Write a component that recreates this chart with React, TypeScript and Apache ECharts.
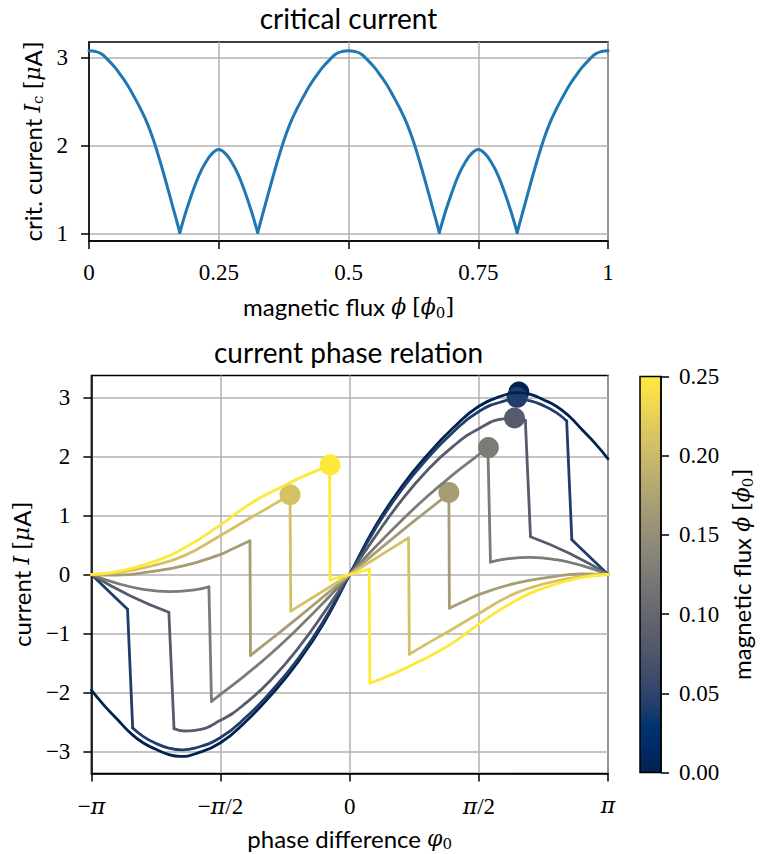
import React, { useEffect, useRef } from 'react';
import * as echarts from 'echarts';

// ---------- top panel: critical current vs magnetic flux (pieces between the cusps) ----------
const FLUX_PIECES = [
  [0, 0.0125, 0.025, 0.0375, 0.05, 0.0625, 0.075, 0.0875, 0.1, 0.1125, 0.125, 0.1375, 0.15, 0.1625, 0.175],
  [0.175, 0.1875, 0.2, 0.2125, 0.225, 0.2375, 0.25, 0.2625, 0.275, 0.2875, 0.3, 0.3125, 0.325],
  [0.325, 0.3375, 0.35, 0.3625, 0.375, 0.3875, 0.4, 0.4125, 0.425, 0.4375, 0.45, 0.4625, 0.475, 0.4875, 0.5,
   0.5125, 0.525, 0.5375, 0.55, 0.5625, 0.575, 0.5875, 0.6, 0.6125, 0.625, 0.6375, 0.65, 0.6625, 0.675],
  [0.675, 0.6875, 0.7, 0.7125, 0.725, 0.7375, 0.75, 0.7625, 0.775, 0.7875, 0.8, 0.8125, 0.825],
  [0.825, 0.8375, 0.85, 0.8625, 0.875, 0.8875, 0.9, 0.9125, 0.925, 0.9375, 0.95, 0.9625, 0.975, 0.9875, 1],
];
const CRIT_CURRENT_PIECES = [
  [3.08, 3.07, 3.04, 2.97, 2.89, 2.79, 2.68, 2.55, 2.41, 2.25, 2.05, 1.81, 1.55, 1.28, 1.01],
  [1.01, 1.26, 1.48, 1.67, 1.81, 1.91, 1.955, 1.91, 1.81, 1.67, 1.48, 1.26, 1.01],
  [1.01, 1.28, 1.55, 1.81, 2.05, 2.25, 2.41, 2.55, 2.68, 2.79, 2.89, 2.97, 3.04, 3.07, 3.08,
   3.07, 3.04, 2.97, 2.89, 2.79, 2.68, 2.55, 2.41, 2.25, 2.05, 1.81, 1.55, 1.28, 1.01],
  [1.01, 1.26, 1.48, 1.67, 1.81, 1.91, 1.955, 1.91, 1.81, 1.67, 1.48, 1.26, 1.01],
  [1.01, 1.28, 1.55, 1.81, 2.05, 2.25, 2.41, 2.55, 2.68, 2.79, 2.89, 2.97, 3.04, 3.07, 3.08],
];

// ---------- bottom panel: current phase relation ----------
// phase difference in units of pi, current in uA; each curve is a list of smooth pieces,
// consecutive pieces are joined by the (near-vertical) jumps
const CPR_FLUX_0 = [[
  [-1, -1.96], [-0.95, -2.22], [-0.9, -2.45], [-0.85, -2.68], [-0.8, -2.85], [-0.75, -2.96], [-0.7, -3.05], [-0.655, -3.08],
  [-0.6, -3.04], [-0.5, -2.85], [-0.4, -2.48], [-0.3, -2.02], [-0.2, -1.48], [-0.1, -0.82], [0, 0],
  [0.1, 0.82], [0.2, 1.48], [0.3, 2.02], [0.4, 2.48], [0.5, 2.85], [0.6, 3.04], [0.655, 3.08], [0.7, 3.05],
  [0.75, 2.96], [0.8, 2.85], [0.85, 2.68], [0.9, 2.45], [0.95, 2.22], [1, 1.96],
]];
const CPR_FLUX_1 = [
  [[-1, 0], [-0.86, -0.59]],
  [[-0.84, -2.6], [-0.8, -2.74], [-0.75, -2.86], [-0.7, -2.94], [-0.648, -2.97], [-0.6, -2.94], [-0.5, -2.76], [-0.4, -2.41],
   [-0.3, -1.96], [-0.2, -1.43], [-0.1, -0.78], [0, 0], [0.1, 0.78], [0.2, 1.43], [0.3, 1.96], [0.4, 2.41], [0.5, 2.76],
   [0.6, 2.94], [0.648, 2.97], [0.7, 2.94], [0.75, 2.86], [0.8, 2.74], [0.84, 2.6]],
  [[0.86, 0.59], [1, 0]],
];
const CPR_FLUX_2 = [
  [[-1, 0], [-0.85, -0.36], [-0.7, -0.64]],
  [[-0.68, -2.61], [-0.64, -2.65], [-0.6, -2.64], [-0.5, -2.47], [-0.4, -2.17], [-0.3, -1.76], [-0.2, -1.25], [-0.1, -0.65],
   [0, 0], [0.1, 0.65], [0.2, 1.25], [0.3, 1.76], [0.4, 2.17], [0.5, 2.47], [0.6, 2.64], [0.64, 2.65], [0.68, 2.61]],
  [[0.7, 0.64], [0.85, 0.36], [1, 0]],
];
const CPR_FLUX_3 = [
  [[-1, 0], [-0.9, -0.15], [-0.8, -0.25], [-0.7, -0.29], [-0.6, -0.26], [-0.545, -0.21]],
  [[-0.535, -2.15], [-0.5, -2.03], [-0.4, -1.69], [-0.3, -1.32], [-0.2, -0.91], [-0.1, -0.47], [0, 0],
   [0.1, 0.47], [0.2, 0.91], [0.3, 1.32], [0.4, 1.69], [0.5, 2.03], [0.535, 2.15]],
  [[0.545, 0.21], [0.6, 0.26], [0.7, 0.29], [0.8, 0.25], [0.9, 0.15], [1, 0]],
];
const CPR_FLUX_4 = [
  [[-1, 0], [-0.9, -0.01], [-0.77, 0.05], [-0.64, 0.15], [-0.513, 0.32], [-0.45, 0.44], [-0.386, 0.57]],
  [[-0.384, -1.37], [-0.3, -1.08], [-0.2, -0.73], [-0.1, -0.37], [0, 0], [0.1, 0.37], [0.2, 0.73], [0.3, 1.08], [0.384, 1.37]],
  [[0.386, -0.57], [0.45, -0.44], [0.513, -0.32], [0.64, -0.15], [0.77, -0.05], [0.9, 0.01], [1, 0]],
];
const CPR_FLUX_5 = [
  [[-1, 0], [-0.9, 0.03], [-0.77, 0.14], [-0.64, 0.32], [-0.5, 0.66], [-0.384, 0.96], [-0.3, 1.17], [-0.231, 1.35]],
  [[-0.228, -0.62], [0, 0], [0.228, 0.62]],
  [[0.231, -1.35], [0.3, -1.17], [0.384, -0.96], [0.5, -0.66], [0.64, -0.32], [0.77, -0.14], [0.9, -0.03], [1, 0]],
];
const CPR_FLUX_6 = [
  [[-1, 0], [-0.9, 0.05], [-0.77, 0.2], [-0.64, 0.45], [-0.5, 0.84], [-0.384, 1.2], [-0.256, 1.5], [-0.16, 1.7], [-0.078, 1.84]],
  [[-0.076, -0.09], [0, 0], [0.076, 0.09]],
  [[0.078, -1.84], [0.16, -1.7], [0.256, -1.5], [0.384, -1.2], [0.5, -0.84], [0.64, -0.45], [0.77, -0.2], [0.9, -0.05], [1, 0]],
];
const CPR_CURVES = [CPR_FLUX_0, CPR_FLUX_1, CPR_FLUX_2, CPR_FLUX_3, CPR_FLUX_4, CPR_FLUX_5, CPR_FLUX_6];

// critical points (maximum current of each curve)
const CRIT_PHASE = [0.655, 0.648, 0.638, 0.537, 0.384, -0.231, -0.076];
const CRIT_VALUE = [3.09, 3.0, 2.65, 2.15, 1.39, 1.35, 1.856];

// magnetic flux of each curve (phi_0 units) and its cividis colour
const CURVE_FLUX = [0, 1 / 24, 2 / 24, 3 / 24, 4 / 24, 5 / 24, 6 / 24];
const CURVE_COLORS = ['#00224e', '#203d6c', '#565c6c', '#7c7b76', '#a69c75', '#d4c164', '#fee838'];

const CIVIDIS = [
  '#00224e', '#002a66', '#00346e', '#273f6c', '#3c4a6b', '#4c556b', '#5b5f6d', '#686a70', '#757575',
  '#838178', '#928c78', '#a19876', '#b0a572', '#c0b16d', '#d1bf66', '#e1cc5c', '#f3db4f', '#fee838',
];

const X_TOP_TICKS = [0, 0.25, 0.5, 0.75, 1];
const Y_TOP_TICKS = [1, 2, 3];
const X_BOT_TICKS = [-1, -0.5, 0, 0.5, 1];
const X_BOT_LABELS = ['\u2212{i|\u03c0}', '\u2212{i|\u03c0}/2', '0', '{i|\u03c0}/2', '{i|\u03c0}'];
const Y_BOT_TICKS = [-3, -2, -1, 0, 1, 2, 3];
const CBAR_TICKS = [0, 0.05, 0.1, 0.15, 0.2, 0.25];

const SANS = 'Lato';
const SERIF = 'Liberation Serif';
const MATH = 'DejaVu Serif';

function jumpData(pieces: number[][][]) {
  const out: any[] = [];
  for (let i = 1; i < pieces.length; i++) {
    const prev = pieces[i - 1];
    if (out.length) out.push([null, null]);
    out.push(prev[prev.length - 1]);
    out.push(pieces[i][0]);
  }
  return out;
}

const LH = 27;
const nameRich = {
  m: { fontFamily: MATH, fontStyle: 'italic', fontSize: 22, color: '#000', lineHeight: LH },
  s: { fontFamily: MATH, fontSize: 15, color: '#000', verticalAlign: 'bottom', lineHeight: 15 },
  b: { fontFamily: MATH, fontSize: 22, color: '#000', lineHeight: LH },
};
const nameStyle = { fontFamily: SANS, fontSize: 24, color: '#000', lineHeight: LH, rich: nameRich };

const tickLabel = { color: '#000', fontFamily: SERIF, fontSize: 23 };
const axisLineStyle = { show: true, onZero: false, lineStyle: { color: '#000', width: 1.5 } };
const tickStyle = { show: true, inside: false, length: 8, lineStyle: { color: '#000', width: 1.5 } };
const gridLine = { show: true, lineStyle: { color: '#b0b0b0', width: 1.5 } };

const minusFmt = (v: number) => (v < 0 ? '\u2212' + String(-v) : String(v));

export default function App() {
  const ref = useRef<HTMLDivElement>(null);
  useEffect(() => {
    document.body.style.margin = '0';
    const chart = echarts.init(ref.current!, null, { renderer: 'svg' });
    const series: any[] = [];
    FLUX_PIECES.forEach((xs, p) => {
      series.push({
        type: 'line', xAxisIndex: 0, yAxisIndex: 0, showSymbol: false, silent: true, smooth: 0.4,
        data: xs.map((f, i) => [f, CRIT_CURRENT_PIECES[p][i]]),
        lineStyle: { color: '#1f77b4', width: 3, cap: 'round', join: 'round' },
      });
    });
    CPR_CURVES.forEach((pieces, k) => {
      const ls = { color: CURVE_COLORS[k], width: 2.8, cap: 'round', join: 'round' };
      pieces.forEach((piece) => {
        series.push({
          type: 'line', xAxisIndex: 1, yAxisIndex: 1, showSymbol: false, silent: true,
          name: 'flux ' + CURVE_FLUX[k].toFixed(3),
          smooth: piece.length > 2 ? 0.5 : false,
          data: piece,
          lineStyle: ls,
        });
      });
      if (pieces.length > 1) {
        series.push({
          type: 'line', xAxisIndex: 1, yAxisIndex: 1, showSymbol: false, silent: true, connectNulls: false,
          data: jumpData(pieces), lineStyle: ls,
        });
      }
      series.push({
        type: 'scatter', xAxisIndex: 1, yAxisIndex: 1, silent: true, symbolSize: 21,
        data: [[CRIT_PHASE[k], CRIT_VALUE[k]]],
        itemStyle: { color: CURVE_COLORS[k], opacity: 1 },
      });
    });

    const option: any = {
      animation: false,
      backgroundColor: '#fff',
      grid: [
        { left: 89, top: 42, width: 519, height: 199, show: true, borderColor: '#000', borderWidth: 1.5, backgroundColor: 'transparent' },
        { left: 89, top: 375.5, width: 519, height: 398, show: true, borderColor: '#000', borderWidth: 1.5, backgroundColor: 'transparent' },
        {
          left: 640, top: 376.5, width: 21, height: 396, show: true, borderColor: '#000', borderWidth: 1.5,
          backgroundColor: new echarts.graphic.LinearGradient(0, 1, 0, 0,
            CIVIDIS.map((c, i) => ({ offset: i / (CIVIDIS.length - 1), color: c }))),
        },
      ],
      xAxis: [
        {
          type: 'value', gridIndex: 0, min: 0, max: 1, interval: 0.25,
          axisLine: axisLineStyle, axisTick: tickStyle, splitLine: gridLine,
          axisLabel: { ...tickLabel, margin: 20, customValues: X_TOP_TICKS },
          name: 'magnetic flux {m|\u03d5} {b|[}{m|\u03d5}{s|0}{b|]}', nameLocation: 'middle', nameGap: 52,
          nameTextStyle: nameStyle,
        },
        {
          type: 'value', gridIndex: 1, min: -1, max: 1, interval: 0.5,
          axisLine: axisLineStyle, axisTick: tickStyle, splitLine: gridLine,
          axisLabel: {
            ...tickLabel, margin: 21,
            formatter: (v: number) => X_BOT_LABELS[X_BOT_TICKS.indexOf(v)] ?? '',
            rich: { i: { fontFamily: MATH, fontStyle: 'italic', fontSize: 22, color: '#000' } },
          },
          name: 'phase difference {m|\u03c6}{s|0}', nameLocation: 'middle', nameGap: 51,
          nameTextStyle: nameStyle,
        },
        { type: 'value', gridIndex: 2, min: 0, max: 1, show: false },
      ],
      yAxis: [
        {
          type: 'value', gridIndex: 0, min: 0.913, max: 3.179,
          axisLine: axisLineStyle,
          axisTick: { ...tickStyle, customValues: Y_TOP_TICKS },
          splitLine: gridLine,
          axisLabel: { ...tickLabel, margin: 21, customValues: Y_TOP_TICKS },
          name: 'crit. current {m|I}{s|c} {b|[}{m|\u03bc}A{b|]}', nameLocation: 'middle', nameGap: 37, nameRotate: 90,
          nameTextStyle: nameStyle,
        },
        {
          type: 'value', gridIndex: 1, min: -3.37, max: 3.37,
          axisLine: axisLineStyle,
          axisTick: { ...tickStyle, customValues: Y_BOT_TICKS },
          splitLine: gridLine,
          axisLabel: { ...tickLabel, margin: 21, customValues: Y_BOT_TICKS, formatter: minusFmt },
          name: 'current {m|I} {b|[}{m|\u03bc}A{b|]}', nameLocation: 'middle', nameGap: 50, nameRotate: 90,
          nameTextStyle: nameStyle,
        },
        {
          type: 'value', gridIndex: 2, position: 'right', min: 0, max: 0.25, interval: 0.05,
          axisLine: axisLineStyle,
          axisTick: { ...tickStyle, customValues: CBAR_TICKS },
          splitLine: { show: false },
          axisLabel: { ...tickLabel, margin: 18, customValues: CBAR_TICKS, formatter: (v: number) => v.toFixed(2) },
          name: 'magnetic flux {m|\u03d5} {b|[}{m|\u03d5}{s|0}{b|]}', nameLocation: 'middle', nameGap: 67, nameRotate: 90,
          nameTextStyle: nameStyle,
        },
      ],
      graphic: [
        { type: 'text', x: 348.5, y: 18.3, style: { text: 'critical current', fontFamily: SANS, fontSize: 28, fill: '#000', align: 'center', verticalAlign: 'middle' } },
        { type: 'text', x: 348.5, y: 351.6, style: { text: 'current phase relation', fontFamily: SANS, fontSize: 28, fill: '#000', align: 'center', verticalAlign: 'middle' } },
      ],
      series,
    };
    chart.setOption(option);
    return () => chart.dispose();
  }, []);
  return <div ref={ref} style={{ width: 760, height: 854 }} />;
}
